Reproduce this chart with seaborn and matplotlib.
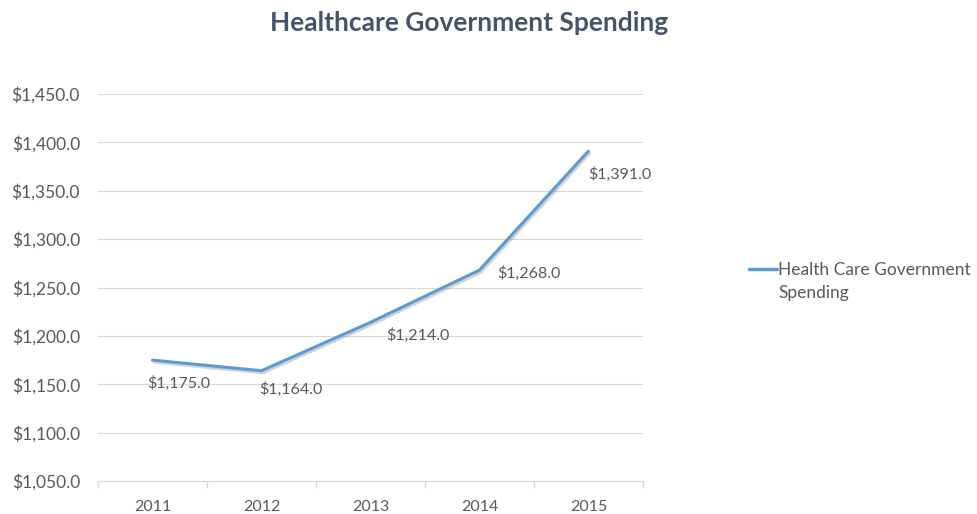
import matplotlib
matplotlib.use("Agg")
import matplotlib.pyplot as plt
import matplotlib.patheffects as pe
from matplotlib.legend_handler import HandlerLine2D
import seaborn as sns
import pandas as pd
from matplotlib.lines import Line2D

years = ["2011", "2012", "2013", "2014", "2015"]
spending = [1175.0, 1164.0, 1214.0, 1268.0, 1391.0]
series_label = "Health Care Government\nSpending"
y_ticks = [1050, 1100, 1150, 1200, 1250, 1300, 1350, 1400, 1450]
# label offsets in pixels (style only)
label_offsets = [(-5, -23), (-2, -19), (16, -13), (18, -3), (0, -23)]

sns.set_theme(style="white")
plt.rcParams['font.family'] = ['Lato', 'DejaVu Sans']

df = pd.DataFrame({"Year": years, "Spending": spending})

fig = plt.figure(figsize=(9.77, 5.14), dpi=100)
ax = fig.add_axes([0.1003, 0.0642, 0.658 - 0.1003, 0.817 - 0.0642])

line_color = "#5B9BD5"
text_color = "#595959"

sns.lineplot(data=df, x="Year", y="Spending", ax=ax, color=line_color,
             linewidth=2.2, sort=False)
for ln in ax.get_lines():
    ln.set_path_effects([pe.SimpleLineShadow(offset=(1, -1.5), shadow_color="#808080", alpha=0.35),
                         pe.Normal()])

ax.set_ylim(1050, 1450)
ax.set_xlim(-0.5, len(years) - 0.5)
ax.set_yticks(y_ticks)
ax.set_yticklabels([f"${v:,.1f}" for v in y_ticks])
ax.yaxis.grid(True, color="#D9D9D9", linewidth=0.8)
ax.set_axisbelow(True)
for s in ["top", "right", "left"]:
    ax.spines[s].set_visible(False)
ax.spines["bottom"].set_color("#D9D9D9")
ax.spines["bottom"].set_linewidth(0.8)

ax.set_xticks(range(len(years)))
ax.set_xticklabels(years)
ax.set_xticks([i - 0.5 for i in range(len(years) + 1)], minor=True)
ax.tick_params(axis="x", which="major", length=0, labelsize=11.5, labelcolor=text_color, pad=14)
ax.tick_params(axis="x", which="minor", length=5, color="#D9D9D9", direction="out", bottom=True)
ax.tick_params(axis="y", length=0, labelsize=12.5, labelcolor=text_color, pad=13)
ax.set_xlabel("")
ax.set_ylabel("")

for i, (v, off) in enumerate(zip(spending, label_offsets)):
    ax.annotate(f"${v:,.1f}", xy=(i, v), xytext=off, textcoords="offset pixels",
                ha="left", va="center", fontsize=11.5, color=text_color)

fig.text(0.48, 0.955, "Healthcare Government Spending", ha="center", va="center",
         fontsize=19, fontweight="bold", color="#44546A")


class FirstLineHandler(HandlerLine2D):
    def __init__(self, shift, **kw):
        super().__init__(**kw)
        self.shift = shift

    def create_artists(self, legend, orig_handle, xdescent, ydescent, width,
                       height, fontsize, trans):
        return super().create_artists(legend, orig_handle, xdescent,
                                      ydescent - 2 * self.shift, width, height,
                                      fontsize, trans)


handle = Line2D([0], [0], color=line_color, linewidth=2.5)
leg = ax.legend([handle], [series_label], loc="upper left",
                bbox_to_anchor=(0.767, 0.491), bbox_transform=fig.transFigure,
                frameon=False, fontsize=12.5, handlelength=1.6, handletextpad=0.05,
                labelcolor=text_color, borderpad=0, borderaxespad=0,
                handler_map={Line2D: FirstLineHandler(shift=9)})
for t in leg.get_texts():
    t.set_linespacing(1.55)

fig.savefig("out.png", dpi=100)
